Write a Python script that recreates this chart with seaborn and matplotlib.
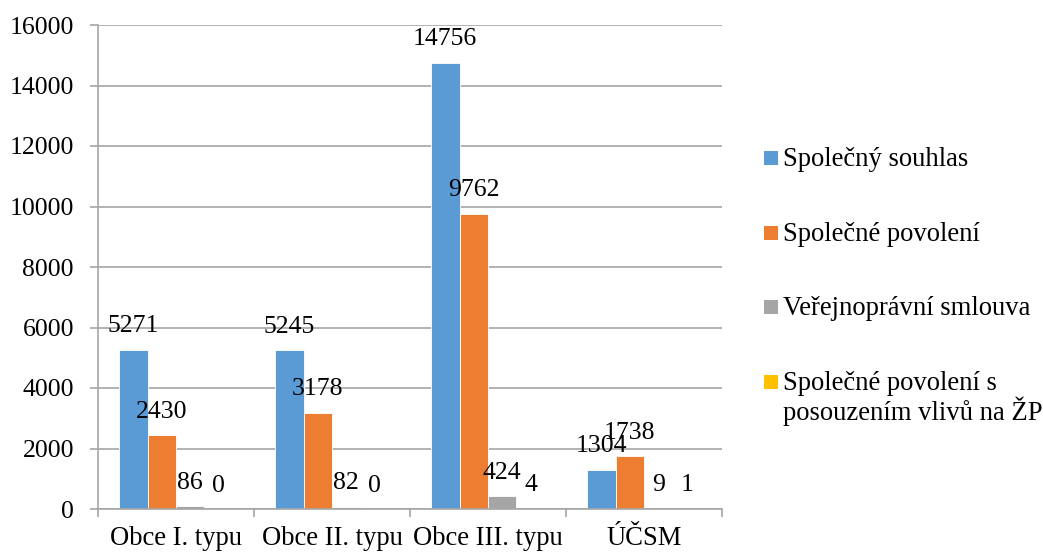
import matplotlib
matplotlib.use('Agg')
import matplotlib.pyplot as plt
from matplotlib.patches import Rectangle
import seaborn as sns
import pandas as pd

# data
CATEGORIES = ['Obce I. typu', 'Obce II. typu', 'Obce III. typu', 'ÚČSM']
SERIES = ['Společný souhlas', 'Společné povolení', 'Veřejnoprávní smlouva',
          'Společné povolení s\nposouzením vlivů na ŽP']
SOUHLAS = [5271, 5245, 14756, 1304]
POVOLENI = [2430, 3178, 9762, 1738]
SMLOUVA = [86, 82, 424, 9]
POVOLENI_ZP = [0, 0, 4, 1]
Y_TICKS = [0, 2000, 4000, 6000, 8000, 10000, 12000, 14000, 16000]
COLORS = ['#5B9BD5', '#ED7D31', '#A5A5A5', '#FFC000']

GRAY = '#A6A6A6'
FS = 18.5
FS_TXT = 19.2
W, H = 1043, 553

rows = []
for name, vals in zip(SERIES, [SOUHLAS, POVOLENI, SMLOUVA, POVOLENI_ZP]):
    for cat, v in zip(CATEGORIES, vals):
        rows.append({'Kategorie': cat, 'Řada': name, 'Počet': v})
df = pd.DataFrame(rows)

sns.set_style('white')
plt.rcParams['font.family'] = ['Liberation Serif', 'DejaVu Serif']
plt.rcParams['text.color'] = 'black'

fig = plt.figure(figsize=(W / 100, H / 100), dpi=100)
ax = fig.add_axes([98 / W, 1 - 509 / H, (722 - 98) / W, (509 - 25) / H])

sns.barplot(data=df, x='Kategorie', y='Počet', hue='Řada', order=CATEGORIES,
            hue_order=SERIES, palette=COLORS, saturation=1, width=0.73,
            edgecolor='white', linewidth=0.6, legend=False, ax=ax)

# value labels above each bar
for cont in ax.containers:
    ax.bar_label(cont, fmt='%d', padding=9, fontsize=FS, color='black')

ax.set_xlim(-0.5, 3.5)
ax.set_ylim(0, 16000)
ax.set_yticks(Y_TICKS)
ax.set_yticklabels([str(t) for t in Y_TICKS])
ax.set_xlabel('')
ax.set_ylabel('')

ax.yaxis.grid(True, color=GRAY, linewidth=1.2)
ax.set_axisbelow(True)
for side in ['top', 'right']:
    ax.spines[side].set_visible(False)
for side in ['left', 'bottom']:
    ax.spines[side].set_color(GRAY)
    ax.spines[side].set_linewidth(1.2)

ax.tick_params(axis='y', left=True, length=5.8, width=1.2, color=GRAY,
               pad=11.5, labelsize=FS, labelcolor='black')
ax.tick_params(axis='x', which='major', bottom=True, length=0, pad=12,
               labelsize=FS_TXT, labelcolor='black')
ax.set_xticks([-0.5, 0.5, 1.5, 2.5, 3.5], minor=True)
ax.tick_params(axis='x', which='minor', bottom=True, length=5.8, width=1.2,
               color=GRAY)

# legend drawn by hand so the square sits by the first line of each entry
for i, (name, col) in enumerate(zip(SERIES, COLORS)):
    top = 151 + i * 74.5
    fig.add_artist(Rectangle((764 / W, 1 - (top + 14) / H), 14 / W, 14 / H,
                             transform=fig.transFigure, facecolor=col,
                             edgecolor='none'))
    for j, line in enumerate(name.split('\n')):
        fig.text(783 / W, 1 - (top + 15 + j * 31) / H, line, fontsize=FS_TXT,
                 va='baseline', ha='left')

fig.savefig('out.png', dpi=100)
